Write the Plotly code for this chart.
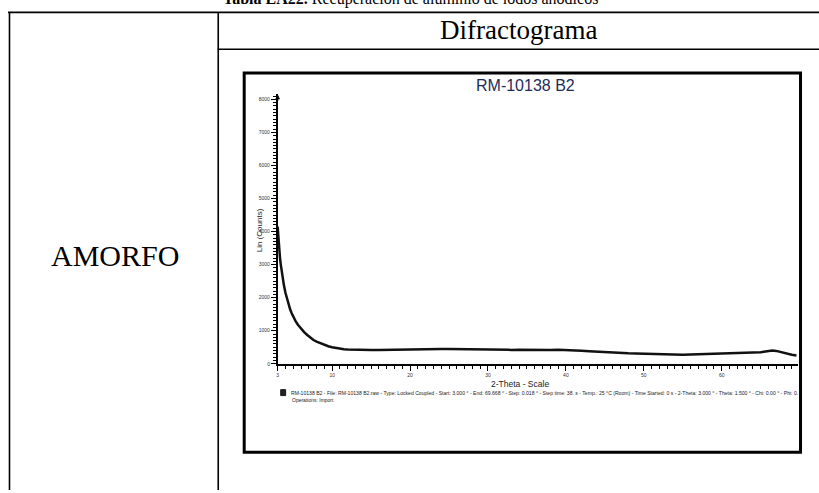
import plotly.graph_objects as go

# ---------------- data ----------------
two_theta = [3.0, 3.1, 3.2, 3.3, 3.4, 3.5, 3.6, 3.8, 4.0, 4.2, 4.4, 4.6, 4.8, 5.0,
             5.3, 5.6, 6.0, 6.4, 6.8, 7.2, 7.6, 8.0, 8.5, 9.0, 9.5, 10.0, 10.5,
             11.0, 11.5, 12.0, 13.0, 14.0, 15.0, 16.0, 17.0, 18.0, 19.0, 20.0,
             21.0, 22.0, 23.0, 24.0, 25.0, 26.0, 27.0, 28.0, 29.0, 30.0, 31.0,
             32.0, 33.0, 34.0, 35.0, 36.0, 37.0, 38.0, 39.0, 40.0, 41.0, 42.0,
             43.0, 44.0, 45.0, 46.0, 47.0, 48.0, 49.0, 50.0, 51.0, 52.0, 53.0,
             54.0, 55.0, 56.0, 57.0, 58.0, 59.0, 60.0, 61.0, 62.0, 63.0, 64.0,
             65.0, 65.5, 66.0, 66.5, 67.0, 67.5, 68.0, 68.5, 69.0, 69.6]
counts = [4150, 3750, 3450, 3200, 3000, 2800, 2650, 2380, 2150, 1960, 1800, 1650, 1530, 1420,
          1290, 1180, 1060, 960, 870, 790, 720, 670, 620, 570, 530, 500, 475,
          455, 440, 430, 420, 415, 420, 415, 420, 430, 440, 445,
          450, 450, 445, 450, 445, 440, 445, 440, 430, 430, 430,
          425, 420, 425, 420, 420, 415, 420, 425, 420, 410, 395,
          380, 365, 345, 335, 325, 318, 312, 305, 300, 290, 280,
          270, 275, 280, 285, 290, 295, 300, 310, 320, 330, 340,
          350, 365, 385, 400, 390, 360, 320, 295, 275, 250]

x_tick_vals = [3, 10, 20, 30, 40, 50, 60]
x_tick_text = ["3", "10", "20", "30", "40", "50", "60"]
y_tick_vals = [0, 1000, 2000, 3000, 4000, 5000, 6000, 7000, 8000]
y_tick_text = ["0", "1000", "2000", "3000", "4000", "5000", "6000", "7000", "8000"]

chart_title = "RM-10138 B2"
x_title = "2-Theta - Scale"
y_title = "Lin (Counts)"
meta_line1 = ("RM-10138 B2 - File: RM-10138 B2.raw - Type: Locked Coupled - Start: 3.000 ° - "
              "End: 69.668 ° - Step: 0.018 ° - Step time: 38. s - Temp.: 25 °C (Room) - "
              "Time Started: 0 s - 2-Theta: 3.000 ° - Theta: 1.500 ° - Chi: 0.00 ° - Phi: 0.")
meta_line2 = "Operations: Import"
page_title = "<b>Tabla EA22.</b> Recuperación de aluminio de lodos anódicos"
header_text = "Difractograma"
row_label = "AMORFO"

# ---------------- layout helpers ----------------
W, H = 819, 493
def px(x):
    return x / W
def py(y):
    return 1 - y / H

SERIF = "Liberation Serif, Times New Roman, serif"
SANS = "Liberation Sans, Arial, sans-serif"

fig = go.Figure()
fig.add_trace(go.Scatter(x=two_theta, y=counts, mode="lines",
                         line=dict(color="#111111", width=2.5),
                         hoverinfo="skip"))

fig.update_layout(
    width=W, height=H, margin=dict(l=0, r=0, t=0, b=0),
    paper_bgcolor="white", plot_bgcolor="white", showlegend=False,
    xaxis=dict(domain=[px(277), px(798)], range=[3, 69.8],
               showgrid=False, zeroline=False, showline=True,
               linecolor="black", linewidth=1.5,
               tickmode="array", tickvals=x_tick_vals, ticktext=x_tick_text,
               ticks="outside", ticklen=5, tickwidth=1, tickcolor="black",
               tickfont=dict(family=SANS, size=5, color="#333333"),
               minor=dict(tickmode="linear", tick0=0, dtick=1, ticks="outside",
                          ticklen=3, tickwidth=1, tickcolor="black", showgrid=False),
               fixedrange=True),
    yaxis=dict(domain=[py(366), py(95)], range=[0, 8150],
               showgrid=False, zeroline=False, showline=True,
               linecolor="black", linewidth=1.5,
               tickmode="array", tickvals=y_tick_vals, ticktext=y_tick_text,
               ticks="outside", ticklen=5, tickwidth=1, tickcolor="black",
               tickfont=dict(family=SANS, size=5, color="#333333"),
               minor=dict(tickmode="linear", tick0=0, dtick=100, ticks="outside",
                          ticklen=3, tickwidth=1, tickcolor="black", showgrid=False),
               fixedrange=True),
)

shapes = []
# table lines
shapes.append(dict(type="line", xref="paper", yref="paper", x0=px(7), x1=1.0,
                   y0=py(12.5), y1=py(12.5), line=dict(color="black", width=1.6)))
shapes.append(dict(type="line", xref="paper", yref="paper", x0=px(8.5), x1=px(8.5),
                   y0=py(12), y1=0, line=dict(color="black", width=1.6)))
shapes.append(dict(type="line", xref="paper", yref="paper", x0=px(217.5), x1=px(217.5),
                   y0=py(12), y1=0, line=dict(color="black", width=1.6)))
shapes.append(dict(type="line", xref="paper", yref="paper", x0=px(217), x1=1.0,
                   y0=py(49.5), y1=py(49.5), line=dict(color="black", width=1.6)))
# chart frame
shapes.append(dict(type="rect", xref="paper", yref="paper", x0=px(243.5), x1=px(800.5),
                   y0=py(455), y1=py(73.5), line=dict(color="black", width=3)))
# legend icon
shapes.append(dict(type="rect", xref="paper", yref="paper", x0=px(280), x1=px(285),
                   y0=py(398), y1=py(392), fillcolor="#222222",
                   line=dict(color="black", width=0.8)))
fig.update_layout(shapes=shapes)

ann = []
ann.append(dict(text=page_title, xref="paper", yref="paper", x=px(410), y=py(10.5),
                xanchor="center", yanchor="bottom", showarrow=False,
                font=dict(family=SERIF, size=16, color="black")))
ann.append(dict(text=header_text, xref="paper", yref="paper", x=px(518), y=py(30),
                xanchor="center", yanchor="middle", showarrow=False,
                font=dict(family=SERIF, size=27, color="black")))
ann.append(dict(text=row_label, xref="paper", yref="paper", x=px(114), y=py(257),
                xanchor="center", yanchor="middle", showarrow=False,
                font=dict(family=SERIF, size=30, color="black")))
ann.append(dict(text=chart_title, xref="paper", yref="paper", x=px(525), y=py(86),
                xanchor="center", yanchor="middle", showarrow=False,
                font=dict(family=SANS, size=16, color="#1c2b5c")))
ann.append(dict(text=x_title, xref="paper", yref="paper", x=px(520), y=py(386),
                xanchor="center", yanchor="middle", showarrow=False,
                font=dict(family=SANS, size=8.5, color="#222222")))
ann.append(dict(text=y_title, xref="paper", yref="paper", x=px(259), y=py(232),
                xanchor="center", yanchor="middle", showarrow=False, textangle=-90,
                font=dict(family=SANS, size=8, color="#222222")))
ann.append(dict(text=meta_line1, xref="paper", yref="paper", x=px(288), y=py(395),
                xanchor="left", yanchor="middle", showarrow=False,
                font=dict(family=SANS, size=5.1, color="#222222")))
ann.append(dict(text=meta_line2, xref="paper", yref="paper", x=px(289), y=py(402.5),
                xanchor="left", yanchor="middle", showarrow=False,
                font=dict(family=SANS, size=5.0, color="#222222")))
# arrow at top of the intensity axis
ann.append(dict(text="", xref="x", yref="y", x=3, y=8150, ax=0, ay=8,
                showarrow=True, arrowhead=2, arrowsize=0.8, arrowwidth=1.2,
                arrowcolor="black"))
fig.update_layout(annotations=ann)

fig.write_html("out.html")
